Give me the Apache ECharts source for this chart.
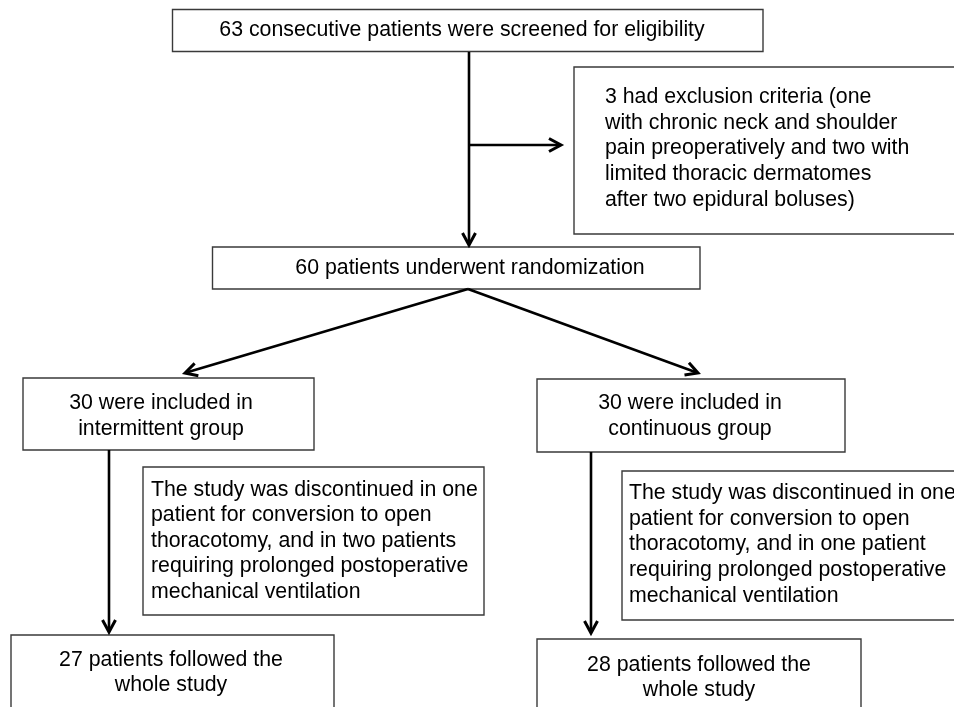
<!DOCTYPE html>
<html>
<head>
<meta charset="utf-8">
<script src="https://cdn.jsdelivr.net/npm/echarts@6/dist/echarts.min.js"></script>
<style>
html,body{margin:0;padding:0;background:#fff;}
#chart{width:954px;height:707px;}
</style>
</head>
<body>
<div id="chart"></div>
<script>
// Flowchart content
const boxTexts = [
  "63 consecutive patients were screened for eligibility",
  "3 had exclusion criteria (one\nwith chronic neck and shoulder\npain preoperatively and two with\nlimited thoracic dermatomes\nafter two epidural boluses)",
  "60 patients underwent randomization",
  "30 were included in\nintermittent group",
  "30 were included in\ncontinuous group",
  "The study was discontinued in one\npatient for conversion to open\nthoracotomy, and in two patients\nrequiring prolonged postoperative\nmechanical ventilation",
  "The study was discontinued in one\npatient for conversion to open\nthoracotomy, and in one patient\nrequiring prolonged postoperative\nmechanical ventilation",
  "27 patients followed the\nwhole study",
  "28 patients followed the\nwhole study"
];
// box corners in layout units [x0, y0, x1, y1]
const boxRects = [
  [172.5, 9.5, 763, 51.5],
  [574, 67, 975, 234],
  [212.5, 247, 700, 289],
  [23, 378, 314, 450],
  [537, 379, 845, 452],
  [143, 467, 484, 615],
  [622, 471, 975, 620],
  [11, 635, 334, 730],
  [537, 639, 861, 730]
];
// text anchor [x, y] per box and its alignment
const textAnchors = [
  [462, 30], [605, 148.5], [470, 268], [161, 416], [690, 416],
  [151, 541], [629, 544.5], [171, 672.5], [699, 677.5]
];
const textAligns = ['center','left','center','center','center','left','left','center','center'];
// arrows [x0, y0, x1, y1] (tail -> head)
const arrows = [
  [469, 52, 469, 245],
  [469, 145, 561, 145],
  [468, 289, 185, 373],
  [468, 289, 698, 373],
  [109, 450, 109, 632],
  [591, 452, 591, 633]
];

const chart = echarts.init(document.getElementById('chart'), null, {renderer: 'canvas'});
const FONT = '21.3px "Liberation Sans", Arial, sans-serif';

const boxData = boxRects.map((r, i) => r.concat(textAnchors[i]));

chart.setOption({
  animation: false,
  backgroundColor: '#ffffff',
  grid: {left: 0, right: 0, top: 0, bottom: 0},
  xAxis: {type: 'value', min: 0, max: 954, show: false},
  yAxis: {type: 'value', min: 0, max: 707, inverse: true, show: false},
  series: [
    {
      type: 'custom',
      coordinateSystem: 'cartesian2d',
      clip: false,
      data: boxData,
      renderItem: function (params, api) {
        const p0 = api.coord([api.value(0), api.value(1)]);
        const p1 = api.coord([api.value(2), api.value(3)]);
        const t = api.coord([api.value(4), api.value(5)]);
        const i = params.dataIndex;
        return {
          type: 'group',
          children: [
            {
              type: 'rect',
              shape: {x: p0[0], y: p0[1], width: p1[0] - p0[0], height: p1[1] - p0[1]},
              style: {fill: '#ffffff', stroke: '#3a3a3a', lineWidth: 1.4}
            },
            {
              type: 'text',
              style: {
                text: boxTexts[i],
                x: t[0], y: t[1],
                font: FONT,
                fill: '#000000',
                align: textAligns[i],
                verticalAlign: 'middle',
                lineHeight: 25.6
              }
            }
          ]
        };
      }
    },
    {
      type: 'custom',
      coordinateSystem: 'cartesian2d',
      clip: false,
      data: arrows,
      renderItem: function (params, api) {
        const a = api.coord([api.value(0), api.value(1)]);
        const b = api.coord([api.value(2), api.value(3)]);
        const dx = b[0] - a[0], dy = b[1] - a[1];
        const len = Math.sqrt(dx * dx + dy * dy);
        const ux = dx / len, uy = dy / len;
        const back = 12, side = 6.5;
        const l = [b[0] - ux * back - uy * side, b[1] - uy * back + ux * side];
        const r = [b[0] - ux * back + uy * side, b[1] - uy * back - ux * side];
        return {
          type: 'group',
          children: [
            {
              type: 'line',
              shape: {x1: a[0], y1: a[1], x2: b[0] - ux * 1.5, y2: b[1] - uy * 1.5},
              style: {stroke: '#000000', lineWidth: 2.6}
            },
            {
              type: 'polyline',
              shape: {points: [l, b, r]},
              style: {stroke: '#000000', lineWidth: 3, fill: null, lineJoin: 'miter'}
            }
          ]
        };
      }
    }
  ]
});
</script>
</body>
</html>
